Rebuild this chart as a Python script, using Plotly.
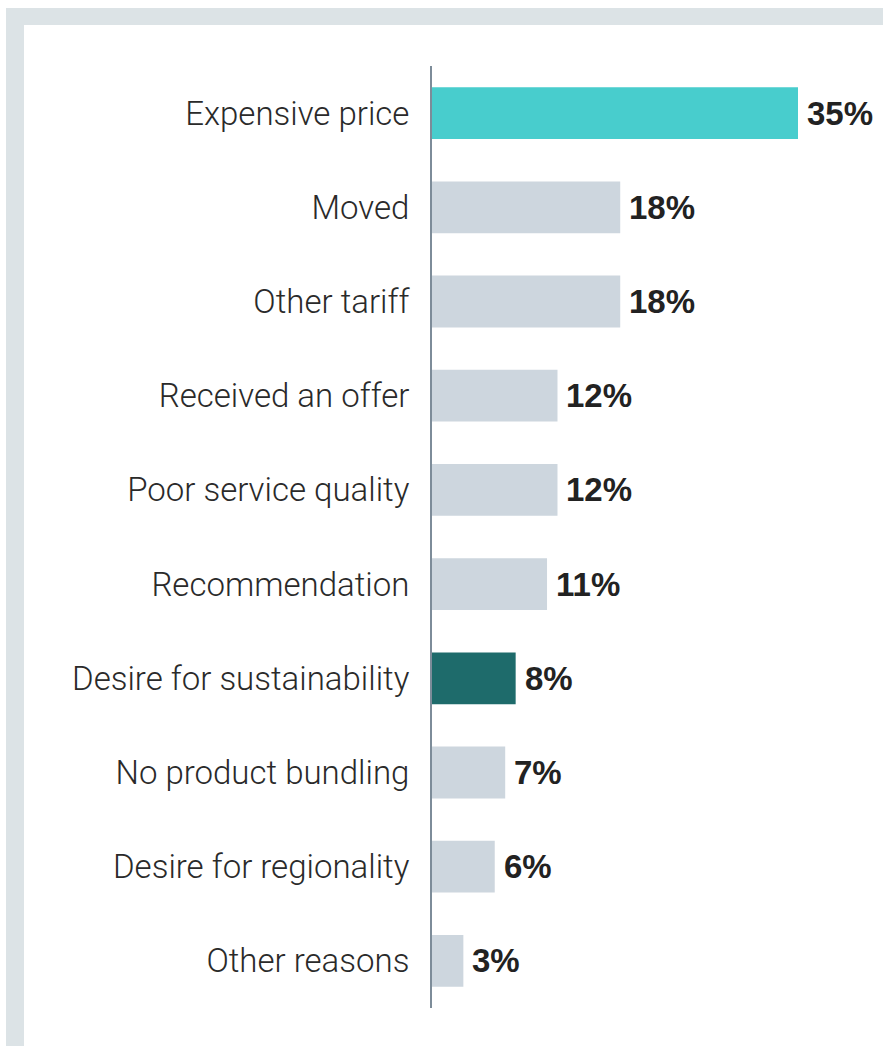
import plotly.graph_objects as go

# Reasons for switching provider, share of respondents (%)
categories = [
    "Expensive price",
    "Moved",
    "Other tariff",
    "Received an offer",
    "Poor service quality",
    "Recommendation",
    "Desire for sustainability",
    "No product bundling",
    "Desire for regionality",
    "Other reasons",
]
values = [35, 18, 18, 12, 12, 11, 8, 7, 6, 3]
value_labels = ["35%", "18%", "18%", "12%", "12%", "11%", "8%", "7%", "6%", "3%"]

TEAL = "#48CDCD"
DARK_TEAL = "#1E6B6B"
GREY = "#CDD6DE"
bar_colors = [TEAL] + [GREY] * 5 + [DARK_TEAL] + [GREY] * 3

W, H = 883, 1046
ML, MR, MT, MB = 432, 0, 66, 38
px_per_unit = 366 / 35
x_max = (W - ML - MR) / px_per_unit

fig = go.Figure(
    go.Bar(
        x=values,
        y=categories,
        orientation="h",
        marker=dict(color=bar_colors, line=dict(width=0)),
        width=0.55,
        hoverinfo="skip",
    )
)

for cat, v, lab in zip(categories, values, value_labels):
    fig.add_annotation(
        x=v, y=cat, text=f"<b>{lab}</b>", showarrow=False,
        xanchor="left", yanchor="middle", xshift=7,
        font=dict(family="Liberation Sans", size=33, color="#222222"),
    )

# Light grey frame along the top and left edges
pw = W - ML - MR
ph = H - MT - MB
def px_x(p):
    return (p - ML) / pw
def px_y(p):
    return 1 - (p - MT) / ph

frame = "#DCE3E6"
fig.add_shape(type="rect", xref="paper", yref="paper",
              x0=px_x(6), x1=px_x(W + 5), y0=px_y(H + 5), y1=px_y(8),
              fillcolor=frame, line=dict(width=0), layer="below")
fig.add_shape(type="rect", xref="paper", yref="paper",
              x0=px_x(24), x1=px_x(W + 5), y0=px_y(H + 5), y1=px_y(25),
              fillcolor="white", line=dict(width=0), layer="below")

fig.update_layout(
    width=W, height=H,
    margin=dict(l=ML, r=MR, t=MT, b=MB),
    paper_bgcolor="white",
    plot_bgcolor="rgba(0,0,0,0)",
    showlegend=False,
    bargap=0.45,
    xaxis=dict(range=[0, x_max], visible=False, fixedrange=True),
    yaxis=dict(
        autorange="reversed",
        showline=True, linecolor="#7D8C99", linewidth=2,
        showgrid=False, zeroline=False, ticks="",
        ticklabelstandoff=14,
        tickfont=dict(family="Roboto", size=33, color="#2A2A2A", weight=300),
        fixedrange=True,
    ),
)

fig.write_html("out.html")
